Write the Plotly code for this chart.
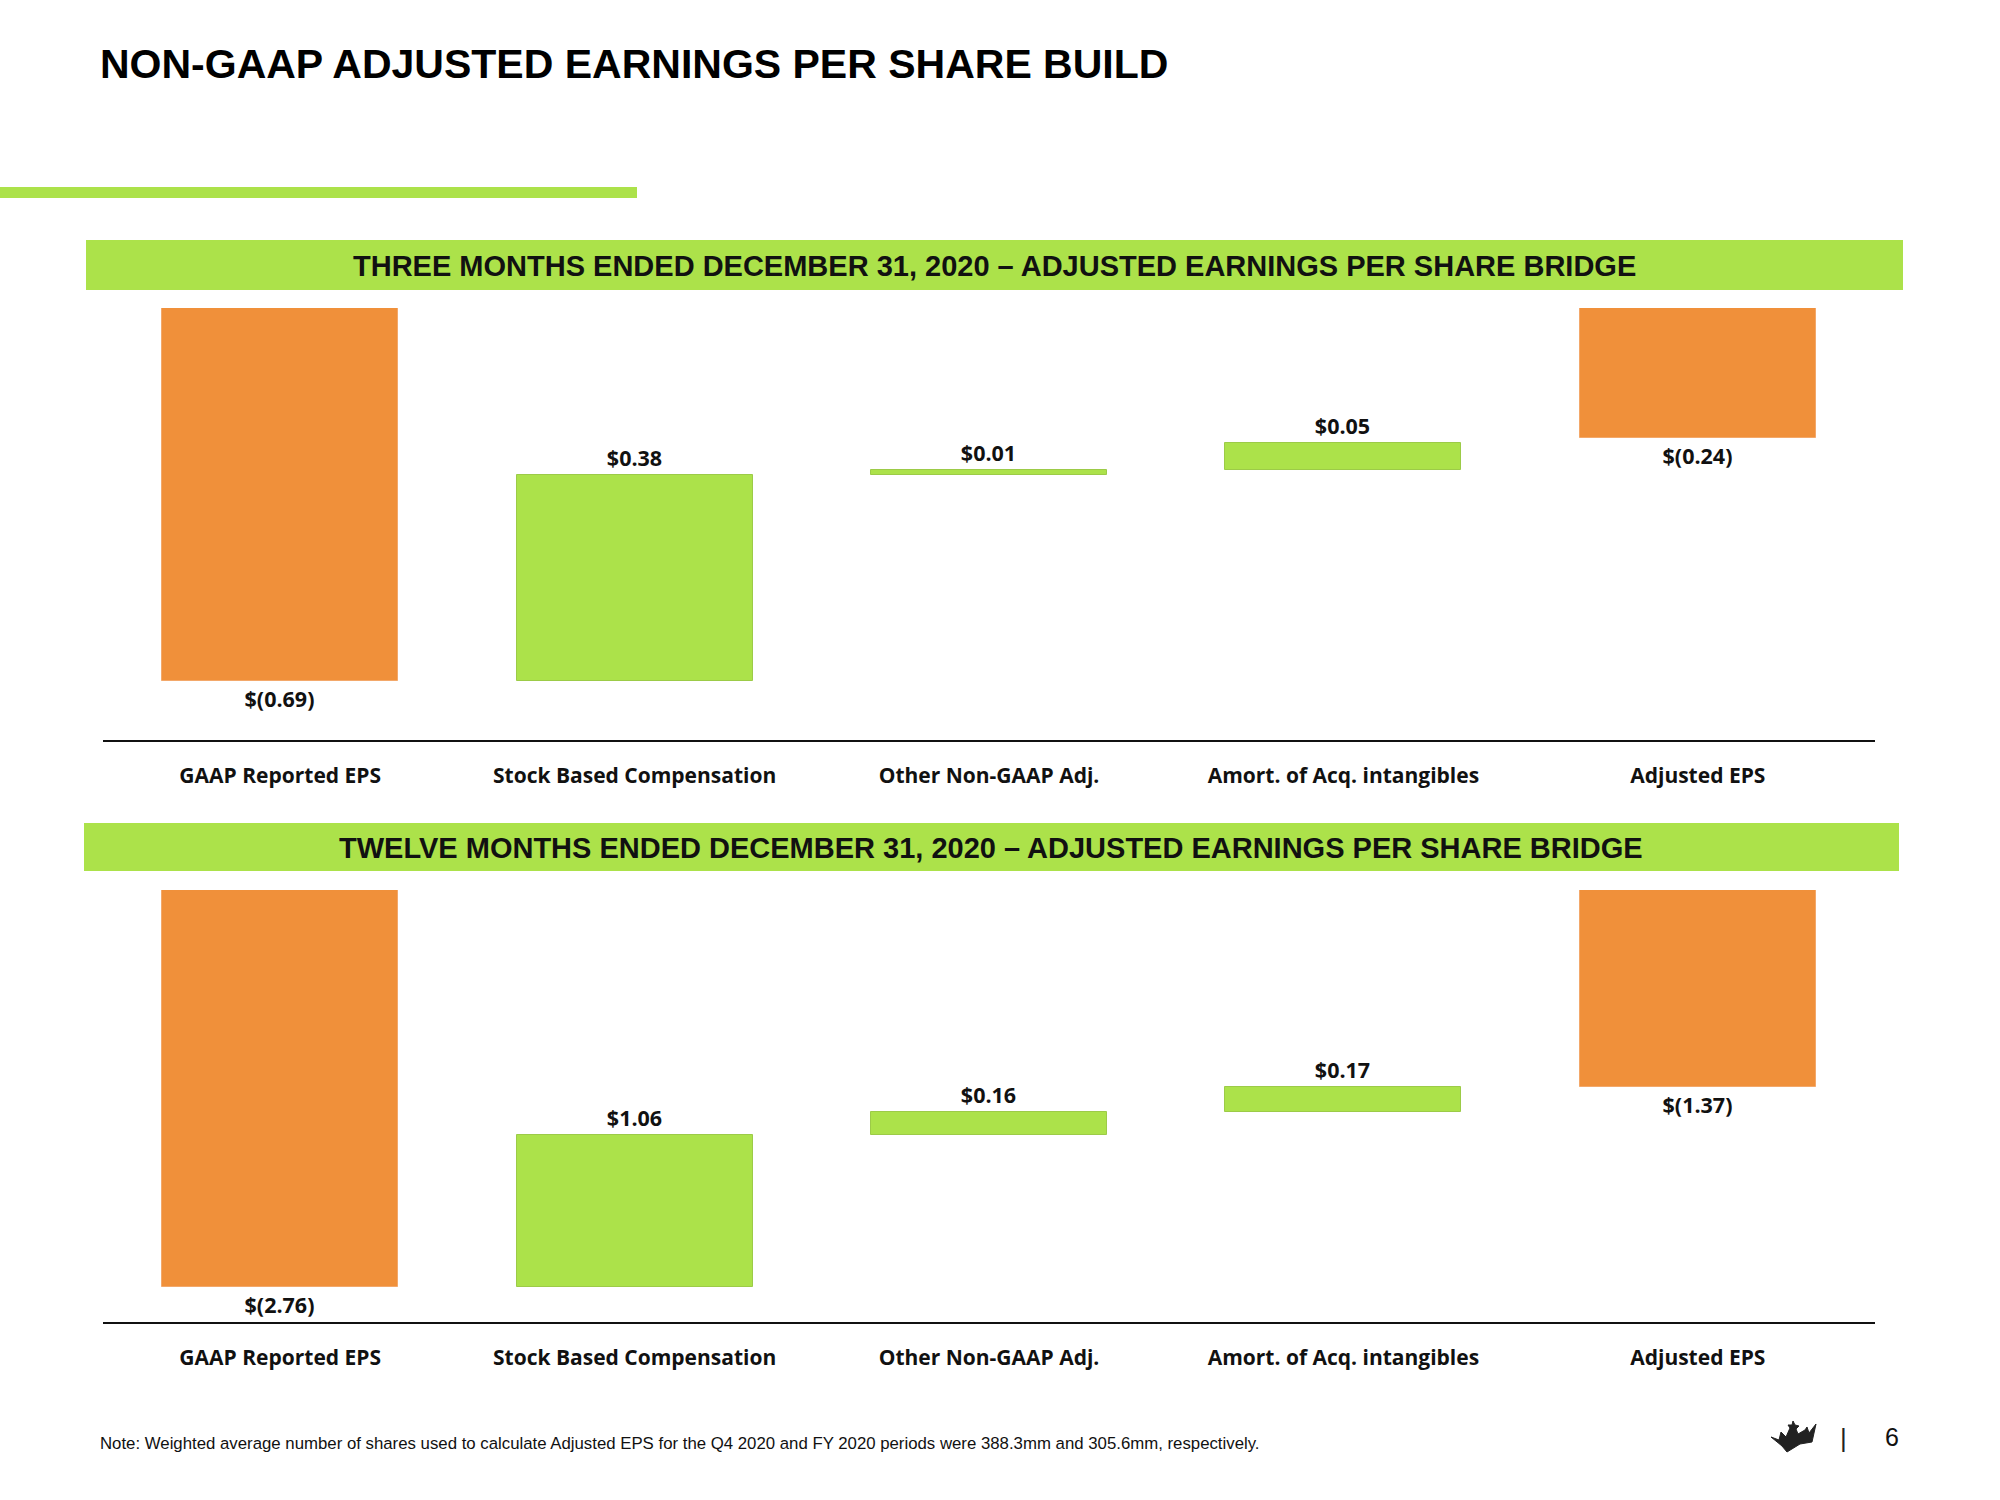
import plotly.graph_objects as go

# ---------------- data ----------------
categories = ["GAAP Reported EPS", "Stock Based Compensation", "Other Non-GAAP Adj.",
              "Amort. of Acq. intangibles", "Adjusted EPS"]
measures = ["absolute", "relative", "relative", "relative", "absolute"]
q4_values = [-0.69, 0.38, 0.01, 0.05, -0.24]
fy_values = [-2.76, 1.06, 0.16, 0.17, -1.37]

title_text = "NON-GAAP ADJUSTED EARNINGS PER SHARE BUILD"
q4_header = "THREE MONTHS ENDED DECEMBER 31, 2020 \u2013 ADJUSTED EARNINGS PER SHARE BRIDGE"
fy_header = "TWELVE MONTHS ENDED DECEMBER 31, 2020 \u2013 ADJUSTED EARNINGS PER SHARE BRIDGE"
note_text = ("Note: Weighted average number of shares used to calculate Adjusted EPS for the Q4 2020 "
             "and FY 2020 periods were 388.3mm and 305.6mm, respectively.")
page_number = "6"

ORANGE = "#F0903A"
GREEN = "#ACE24A"
W, H = 2000, 1500


def px(x):
    return x / W


def py(y):
    return 1 - y / H


def fmt(v):
    return "$({:.2f})".format(-v) if v < 0 else "${:.2f}".format(v)


def bases_for(values):
    out, running = [], 0.0
    for v, m in zip(values, measures):
        if m == "absolute":
            out.append(0.0)
            running = v
        else:
            out.append(running)
            running += v
    return out


fig = go.Figure()

for values, xa, ya in [(q4_values, "x", "y"), (fy_values, "x2", "y2")]:
    fig.add_trace(go.Bar(
        x=categories, y=values, base=bases_for(values),
        xaxis=xa, yaxis=ya, width=0.666,
        marker=dict(color=[ORANGE if m == "absolute" else GREEN for m in measures],
                    line=dict(color=["#F3A86A" if m == "absolute" else "#9CCB48" for m in measures],
                              width=1)),
        text=[fmt(v) for v in values], textposition="outside",
        textfont=dict(family="Open Sans, Noto Sans, sans-serif", size=21.5, color="#111111",
                      weight="bold"),
        cliponaxis=False, showlegend=False, hoverinfo="skip",
    ))

xdom = [px(103), px(1875)]
axis_common = dict(type="category", range=[-0.5, 4.5], showline=True, linecolor="#111111",
                   linewidth=2, ticks="outside", tickcolor="rgba(0,0,0,0)", ticklen=16,
                   showgrid=False, zeroline=False, fixedrange=True,
                   tickfont=dict(family="Open Sans, Noto Sans, sans-serif", size=21,
                                 color="#111111", weight="bold"))
fig.update_layout(
    width=W, height=H, margin=dict(l=0, r=0, t=0, b=0),
    paper_bgcolor="white", plot_bgcolor="white", bargap=0,
    xaxis=dict(domain=xdom, anchor="y", **axis_common),
    yaxis=dict(domain=[py(740), py(308)], range=[-0.80, 0], visible=False, fixedrange=True),
    xaxis2=dict(domain=xdom, anchor="y2", **axis_common),
    yaxis2=dict(domain=[py(1322), py(890)], range=[-3.0, 0], visible=False, fixedrange=True),
)

shapes = [
    dict(type="rect", xref="paper", yref="paper", x0=px(0), x1=px(637), y0=py(198), y1=py(187),
         fillcolor=GREEN, line=dict(width=0), layer="below"),
    dict(type="rect", xref="paper", yref="paper", x0=px(86), x1=px(1903), y0=py(290), y1=py(240),
         fillcolor=GREEN, line=dict(width=0), layer="below"),
    dict(type="rect", xref="paper", yref="paper", x0=px(84), x1=px(1899), y0=py(871), y1=py(823),
         fillcolor=GREEN, line=dict(width=0), layer="below"),
]

# crown logo outline (decoration)
crown_pts = [(1771, 1437), (1779, 1440), (1781, 1432), (1786, 1437), (1790, 1428), (1788, 1425),
             (1792, 1425), (1793, 1421), (1795, 1425), (1799, 1426), (1796, 1429), (1798, 1434),
             (1805, 1430), (1807, 1427), (1809, 1433), (1816, 1424), (1812, 1442), (1800, 1444),
             (1787, 1452), (1782, 1446)]
path = "M " + " L ".join("{:.5f},{:.5f}".format(px(x), py(y)) for x, y in crown_pts) + " Z"
shapes.append(dict(type="path", xref="paper", yref="paper", path=path,
                   fillcolor="#222222", line=dict(color="#222222", width=1)))
fig.update_layout(shapes=shapes)

annotations = [
    dict(text="<b>" + title_text + "</b>", x=px(98), y=py(64), xanchor="left", yanchor="middle",
         font=dict(family="Liberation Sans, Arial, sans-serif", size=41, color="#000000")),
    dict(text="<b>" + q4_header + "</b>", x=px(994), y=py(266), xanchor="center", yanchor="middle",
         font=dict(family="Liberation Sans, Arial, sans-serif", size=29, color="#111111")),
    dict(text="<b>" + fy_header + "</b>", x=px(991), y=py(848), xanchor="center", yanchor="middle",
         font=dict(family="Liberation Sans, Arial, sans-serif", size=29, color="#111111")),
    dict(text=note_text, x=px(98), y=py(1443), xanchor="left", yanchor="middle",
         font=dict(family="Liberation Sans, Arial, sans-serif", size=16.8, color="#111111")),
    dict(text="|", x=px(1843), y=py(1438), xanchor="center", yanchor="middle",
         font=dict(family="Liberation Sans, Arial, sans-serif", size=26, color="#222222")),
    dict(text=page_number, x=px(1892), y=py(1437), xanchor="center", yanchor="middle",
         font=dict(family="Liberation Sans, Arial, sans-serif", size=25, color="#111111")),
]
for a in annotations:
    a.update(xref="paper", yref="paper", showarrow=False)
fig.update_layout(annotations=annotations)

fig.write_html("out.html", config={"displayModeBar": False},
               post_script="document.body.style.margin='0px';document.body.style.padding='0px';")
